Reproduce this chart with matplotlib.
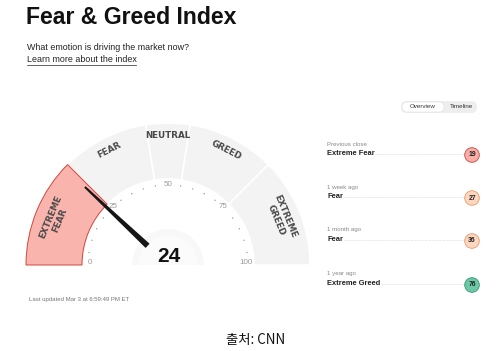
import numpy as np
import matplotlib
matplotlib.use("Agg")
import matplotlib.pyplot as plt
from matplotlib.patches import Wedge, Circle, Polygon, FancyBboxPatch

# gauge data
zone_bounds = [0, 25, 45, 55, 75, 100]
zone_labels = ["EXTREME\nFEAR", "FEAR", "NEUTRAL", "GREED", "EXTREME\nGREED"]
tick_values = [0, 25, 50, 75, 100]
current_value = 24

# history panel data
hist_when = ["Previous close", "1 week ago", "1 month ago", "1 year ago"]
hist_label = ["Extreme Fear", "Fear", "Fear", "Extreme Greed"]
hist_value = [19, 27, 36, 76]

W, H = 500, 351
SANS = ["Liberation Sans", "DejaVu Sans"]

def fy(py):
    # pixel row -> axis y
    return H - py

def ang(v):
    return 180 - v * 1.8

def zone_colors(v):
    # fill / edge for the history badges
    if v < 25:
        return "#f6aea7", "#c9453b"
    if v < 45:
        return "#fcd6bf", "#e49a68"
    if v < 55:
        return "#e6e6e6", "#999999"
    if v < 75:
        return "#b9e6d3", "#4cae88"
    return "#6dc7a5", "#2e9872"

fig = plt.figure(figsize=(W / 100, H / 100), dpi=100)
ax = fig.add_axes([0, 0, 1, 1])
ax.set_xlim(0, W)
ax.set_ylim(0, H)
ax.set_aspect("equal")
ax.axis("off")

# header
ax.text(26, fy(18), "Fear & Greed Index", fontsize=16.6, fontweight="bold",
        family=SANS, va="center", ha="left", color="#111111")
ax.text(27, fy(47), "What emotion is driving the market now?", fontsize=6.4,
        family=SANS, va="center", color="#222222")
ax.text(27, fy(60), "Learn more about the index", fontsize=6.4,
        family=SANS, va="center", color="#222222")
ax.plot([27, 136], [fy(64.5), fy(64.5)], color="#222222", lw=0.5)

# gauge
cx, cy = 168, fy(265)
r_out, r_in = 142, 86

for i in range(1, len(zone_labels)):
    a1, a2 = ang(zone_bounds[i + 1]), ang(zone_bounds[i])
    ax.add_patch(Wedge((cx, cy), r_out, a1, a2, width=r_out - r_in,
                       facecolor="#f3f3f3", edgecolor="white", lw=1.2, zorder=1))

a1, a2 = ang(zone_bounds[1]), ang(zone_bounds[0])
ax.add_patch(Wedge((cx, cy), r_out, a1, a2, width=r_out - r_in,
                   facecolor="#f9b4ad", edgecolor="#d0463d", lw=0.7, zorder=2))

for i, lab in enumerate(zone_labels):
    mid = (zone_bounds[i] + zone_bounds[i + 1]) / 2
    t = np.radians(ang(mid))
    rr = 129 if "\n" not in lab else 122
    ax.text(cx + rr * np.cos(t), cy + rr * np.sin(t), lab, rotation=ang(mid) - 90,
            ha="center", va="center", fontsize=6.3, fontweight="bold",
            family="DejaVu Sans", color="#4a4a4a", linespacing=1.0, zorder=3)

# inner soft disc
ax.add_patch(Wedge((cx, cy), 36, 0, 180, facecolor="#f8f8f8", edgecolor="none", zorder=1))
ax.add_patch(Wedge((cx, cy), 30, 0, 180, facecolor="#fbfbfb", edgecolor="none", zorder=1))

# dots and tick labels
r_tick = 80
for v in range(0, 101, 5):
    t = np.radians(ang(v))
    if v in tick_values:
        ax.text(cx + 78 * np.cos(t), cy + 78 * np.sin(t) + 3, str(v),
                ha="center", va="center", fontsize=5.8, family=SANS,
                color="#9a9a9a", zorder=3)
    else:
        ax.add_patch(Circle((cx + r_tick * np.cos(t), cy + r_tick * np.sin(t)), 0.7,
                            facecolor="#9a9a9a", edgecolor="none", zorder=3))

# needle
t = np.radians(ang(current_value))
u = np.array([np.cos(t), np.sin(t)])
n = np.array([-u[1], u[0]])
c = np.array([cx, cy])
base, tip = c + 28 * u, c + 114 * u
needle = Polygon([base + 2.9 * n, tip + 1.0 * n, tip - 1.0 * n, base - 2.9 * n],
                 closed=True, facecolor="#161616", edgecolor="none", zorder=4)
ax.add_patch(needle)

ax.text(cx + 1, fy(257), str(current_value), ha="center", va="center",
        fontsize=15, fontweight="bold", family=SANS, color="#111111", zorder=5)

ax.text(29, fy(300), "Last updated Mar 3 at 6:59:49 PM ET", fontsize=4.3,
        family=SANS, va="center", color="#777777")

# toggle
ax.add_patch(FancyBboxPatch((401, fy(113)), 76, 12, boxstyle="round,pad=0,rounding_size=6",
                            facecolor="#eeeeee", edgecolor="none"))
ax.add_patch(FancyBboxPatch((402, fy(112)), 42, 10, boxstyle="round,pad=0,rounding_size=5",
                            facecolor="white", edgecolor="#dddddd", lw=0.4))
ax.text(423, fy(107), "Overview", fontsize=4.5, family=SANS, ha="center",
        va="center", color="#333333")
ax.text(461, fy(107), "Timeline", fontsize=4.5, family=SANS, ha="center",
        va="center", color="#333333")

# history rows
row_y = [155, 198, 241, 285]
for when, lab, v, py in zip(hist_when, hist_label, hist_value, row_y):
    fc, ec = zone_colors(v)
    ax.text(327, fy(py - 11), when, fontsize=4.4, family=SANS, va="center",
            color="#888888")
    ax.plot([330, 465], [fy(py - 1), fy(py - 1)], color="#d4d4d4", lw=0.5,
            ls=(0, (1, 1)), zorder=1)
    ax.text(327, fy(py - 1.5), lab, fontsize=5.4, fontweight="bold", family=SANS,
            va="center", color="#222222", zorder=2,
            bbox=dict(facecolor="white", edgecolor="none", pad=0.8))
    ax.add_patch(Circle((472, fy(py)), 7.3, facecolor=fc, edgecolor=ec, lw=0.6, zorder=3))
    ax.text(472, fy(py), str(v), fontsize=4.9, fontweight="bold", family=SANS,
            ha="center", va="center", color="#222222", zorder=4)

# source line
ax.text(256, fy(340), "출처: CNN", fontsize=9.6, ha="center", va="center",
        family=["Noto Sans CJK KR", "DejaVu Sans"], color="#111111")

fig.savefig("out.png", dpi=100)
